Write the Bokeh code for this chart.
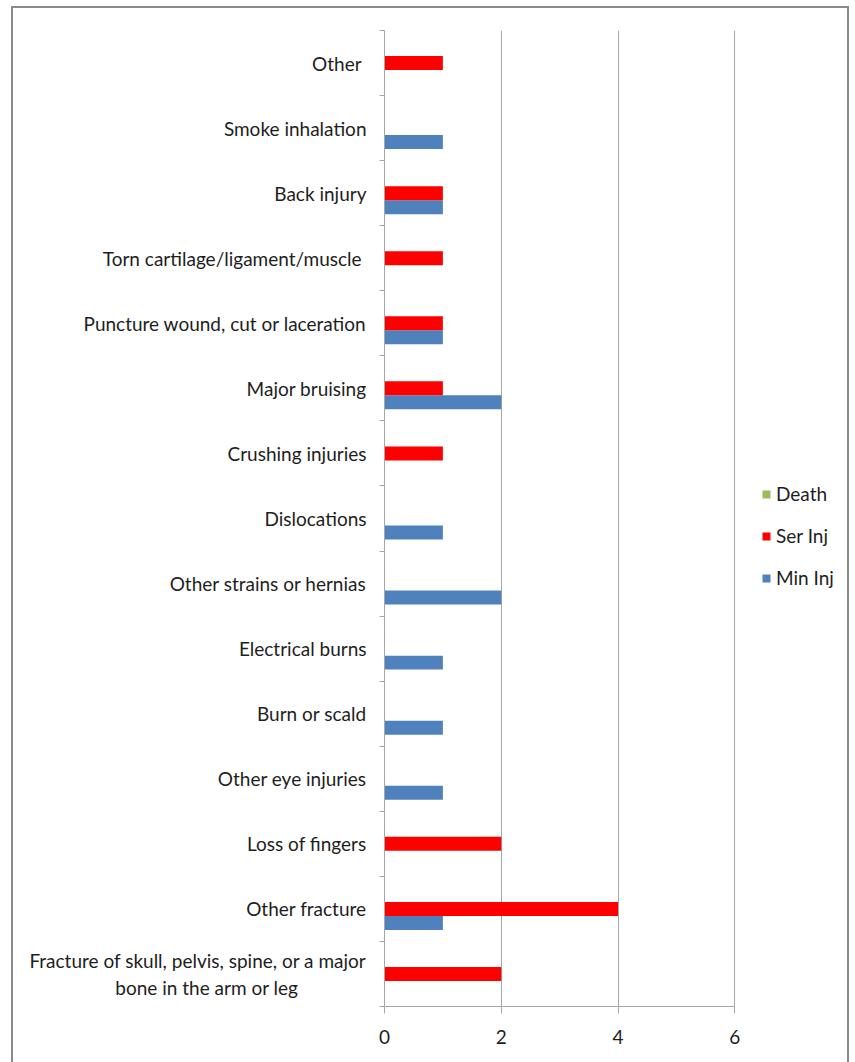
from bokeh.plotting import figure
from bokeh.models import ColumnDataSource, FixedTicker, Legend, LegendItem
from bokeh.transform import dodge
from bokeh.embed import file_html
from bokeh.resources import INLINE

categories = [
    "Fracture of skull, pelvis, spine, or a major\nbone in the arm or leg" + " " * 14,
    "Other fracture",
    "Loss of fingers",
    "Other eye injuries",
    "Burn or scald",
    "Electrical burns",
    "Other strains or hernias",
    "Dislocations",
    "Crushing injuries",
    "Major bruising",
    "Puncture wound, cut or laceration",
    "Torn cartilage/ligament/muscle ",
    "Back injury",
    "Smoke inhalation",
    "Other ",
]
min_inj = [0, 1, 0, 1, 1, 1, 2, 1, 0, 2, 1, 0, 1, 1, 0]
ser_inj = [2, 4, 2, 0, 0, 0, 0, 0, 1, 1, 1, 1, 1, 0, 1]
death = [0, 0, 0, 0, 0, 0, 0, 0, 0, 0, 0, 0, 0, 0, 0]
x_ticks = [0, 2, 4, 6]
x_max = 6
series_names = ["Death", "Ser Inj", "Min Inj"]
series_colors = ["#9BBB59", "#FF0000", "#4F81BD"]

pos = [i + 0.5 for i in range(len(categories))]
src = ColumnDataSource(dict(y=pos, min_inj=min_inj, ser_inj=ser_inj, death=death))

FONT = "Lato"
FS = "19px"
TXT = "#1e1e1e"
GRID = "#a6a6a6"

# frame is widened past the last tick so the legend can sit to the right of the axis
p = figure(width=838, height=1058, x_range=(0, 8.0), y_range=(0, len(categories)),
           output_backend="svg", toolbar_location=None,
           min_border_left=371, min_border_right=0, min_border_top=22, min_border_bottom=60)
p.margin = (6, 0, 0, 11)
p.styles = {"border": "2px solid #8a8a8a"}
p.outline_line_color = None

bh = 0.215
r_min = p.hbar(y=dodge("y", -bh, range=p.y_range), left=0, right="min_inj", height=bh,
               source=src, fill_color=series_colors[2], line_color=None)
r_ser = p.hbar(y=dodge("y", 0, range=p.y_range), left=0, right="ser_inj", height=bh,
               source=src, fill_color=series_colors[1], line_color=None)
r_death = p.hbar(y=dodge("y", bh, range=p.y_range), left=0, right="death", height=bh,
                 source=src, fill_color=series_colors[0], line_color=None)

# grid
p.ygrid.visible = False
p.xgrid.ticker = FixedTicker(ticks=x_ticks)
p.xgrid.grid_line_color = GRID

# x axis
p.xaxis.bounds = (0, x_max)
p.xaxis.ticker = FixedTicker(ticks=x_ticks, minor_ticks=[])
p.xaxis.axis_line_color = GRID
p.xaxis.major_tick_line_color = GRID
p.xaxis.major_tick_out = 7
p.xaxis.major_tick_in = 0
p.xaxis.major_label_standoff = 16
p.xaxis.major_label_text_font = FONT
p.xaxis.major_label_text_font_size = FS
p.xaxis.major_label_text_color = TXT

# y axis
p.yaxis.ticker = FixedTicker(ticks=pos, minor_ticks=list(range(len(categories) + 1)))
p.yaxis.major_label_overrides = {v: c for v, c in zip(pos, categories)}
p.yaxis.axis_line_color = GRID
p.yaxis.major_tick_out = 0
p.yaxis.major_tick_in = 0
p.yaxis.minor_tick_out = 5
p.yaxis.minor_tick_in = 0
p.yaxis.minor_tick_line_color = GRID
p.yaxis.major_label_standoff = 13
p.yaxis.major_label_text_font = FONT
p.yaxis.major_label_text_font_size = FS
p.yaxis.major_label_text_color = TXT

legend = Legend(items=[LegendItem(label=series_names[0], renderers=[r_death]),
                       LegendItem(label=series_names[1], renderers=[r_ser]),
                       LegendItem(label=series_names[2], renderers=[r_min])],
                location=(377, 417), margin=0, padding=10, border_line_color=None,
                background_fill_alpha=0, glyph_width=10, glyph_height=10,
                label_height=20, spacing=19, label_standoff=5,
                label_text_font=FONT, label_text_font_size=FS, label_text_color=TXT)
p.add_layout(legend, "center")

open("out.html", "w").write(file_html(p, INLINE))
